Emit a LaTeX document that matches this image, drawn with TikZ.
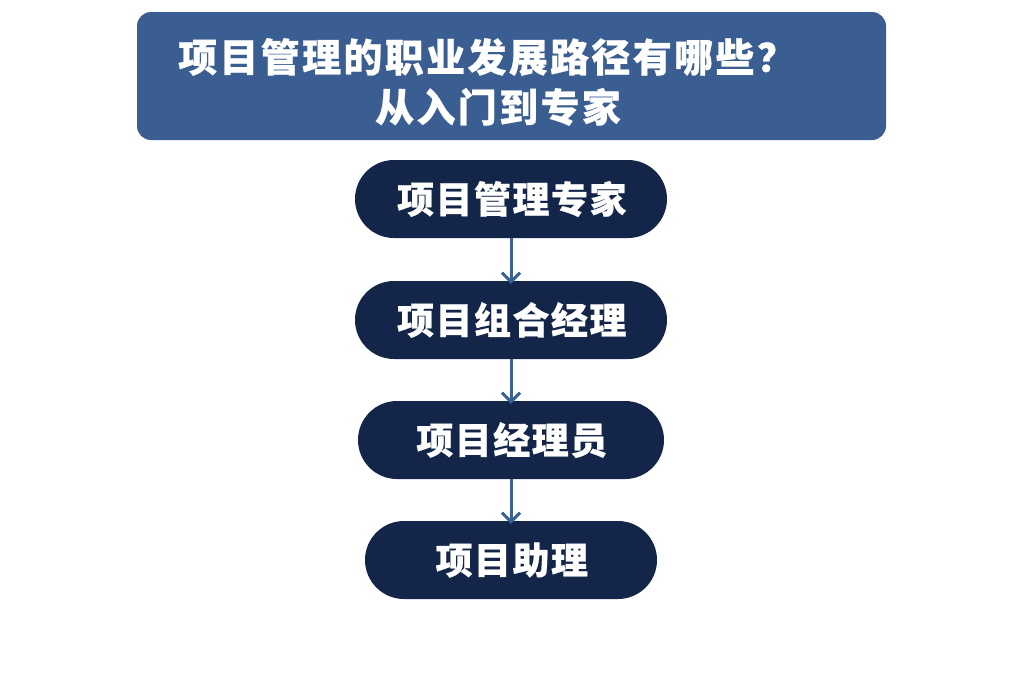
\documentclass[tikz,border=0pt]{standalone}
\usepackage{fontspec}
\newfontfamily\cjkwide{Noto Sans CJK SC}[BoldFeatures={FakeBold=0.6,LetterSpace=6}]
\newfontfamily\cjkmid{Noto Sans CJK SC}[BoldFeatures={FakeBold=0.6,LetterSpace=4}]
\usetikzlibrary{arrows.meta}
\definecolor{titleblue}{HTML}{3A5E91}
\definecolor{navy}{HTML}{14254A}
\definecolor{arrowblue}{HTML}{3A6196}
\tikzset{
  pill/.style={rounded corners=39pt, fill=navy, minimum height=78pt, text=white,
    font=\cjkmid\bfseries\fontsize{37}{42}\selectfont, inner sep=0pt},
  flow/.style={draw=arrowblue, line width=3pt, -{Straight Barb[length=9pt,width=18pt,line width=3pt]}}
}
\begin{document}
\begin{tikzpicture}[x=1pt,y=-1pt]
\useasboundingbox (0,0) rectangle (1024,683);
\fill[white] (0,0) rectangle (1024,683);
\node[fill=titleblue, rounded corners=14pt, minimum width=749pt, minimum height=128pt, inner sep=0pt] (title) at (511.5,76) {};
\node[text=white, font=\cjkwide\bfseries\fontsize{39}{50}\selectfont, align=center] (ttext) at (487,82)
  {项目管理的职业发展路径有哪些？\\\hspace*{22pt}从入门到专家};
\node[pill, minimum width=312pt] (n1) at (511,199) {\hspace*{1.5pt}项目管理专家};
\node[pill, minimum width=312pt] (n2) at (511,320) {\hspace*{1.5pt}项目组合经理};
\node[pill, minimum width=306pt] (n3) at (511,440) {\hspace*{1.5pt}项目经理员};
\node[pill, minimum width=292pt] (n4) at (511,560) {\hspace*{1.5pt}项目助理};
\draw[flow] (n1.south) -- ([yshift=-3pt]n2.north);
\draw[flow] (n2.south) -- ([yshift=-3pt]n3.north);
\draw[flow] (n3.south) -- ([yshift=-3pt]n4.north);
\end{tikzpicture}
\end{document}
